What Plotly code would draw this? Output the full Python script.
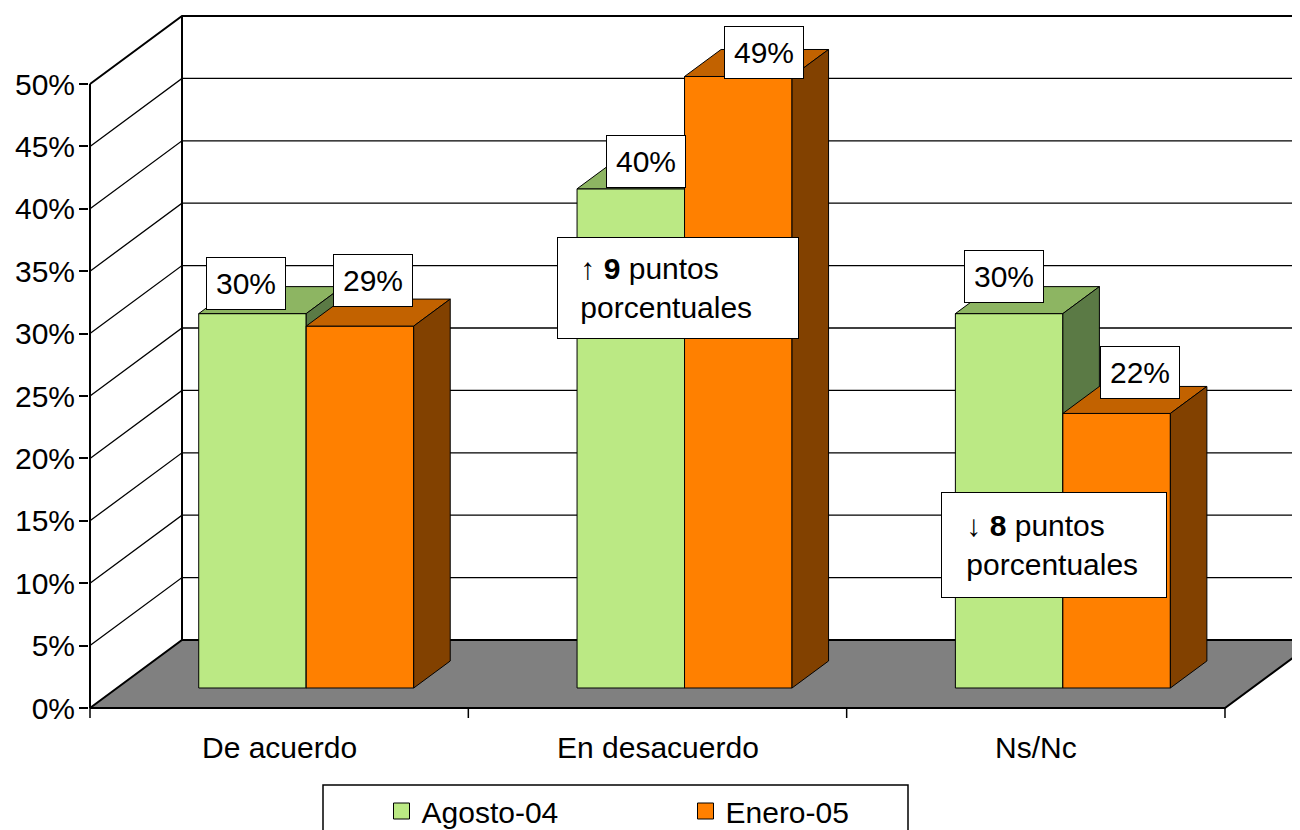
import plotly.graph_objects as go

# ---------------- data ----------------
categories = ["De acuerdo", "En desacuerdo", "Ns/Nc"]
series_names = ["Agosto-04", "Enero-05"]
agosto_04 = [30, 40, 30]
enero_05 = [29, 49, 22]
value_labels_agosto = ["30%", "40%", "30%"]
value_labels_enero = ["29%", "49%", "22%"]
y_tick_values = [0, 5, 10, 15, 20, 25, 30, 35, 40, 45, 50]
y_tick_labels = ["0%", "5%", "10%", "15%", "20%", "25%", "30%", "35%", "40%", "45%", "50%"]
change_texts = ["\u00a0\u2191 <b>9</b> puntos<br>\u00a0porcentuales",
                "\u00a0\u2193 <b>8</b> puntos<br>\u00a0porcentuales"]

# ---------------- styling / geometry ----------------
FONT = "Liberation Sans, Arial, sans-serif"
W, H = 1300, 830
OFF = 8                  # page body margin offset of the figure
PX_CAT = 378.33          # px per category on the front plane
PX_PCT = 12.48           # px per percent point
X0_PX, Y0_PX = 90 - OFF, 708 - OFF   # front-plane origin in figure px
PLOT_BOTTOM_PX = 722 - OFF
DX = 92 / PX_CAT         # full depth offset (x, category units)
DY = 68 / PX_PCT         # full depth offset (y, percent units)
D0, D1 = 0.294, 0.691    # bar depth start / end (fraction of depth)
BAR_W = 0.2841
XMAX = (W - X0_PX) / PX_CAT
YMAX = Y0_PX / PX_PCT
YMIN = -(PLOT_BOTTOM_PX - Y0_PX) / PX_PCT
TOP = max(y_tick_values)
NCAT = len(categories)
FS = 30

colors = {
    "Agosto-04": dict(front="#BBE984", top="#8DB562", side="#5B7A45"),
    "Enero-05": dict(front="#FF8000", top="#C26200", side="#824100"),
}

fig = go.Figure()

def line_trace(xs, ys, width, color="black"):
    fig.add_trace(go.Scatter(x=xs, y=ys, mode="lines", line=dict(color=color, width=width),
                             hoverinfo="skip", showlegend=False))

def poly_trace(xs, ys, fill, lw=1):
    fig.add_trace(go.Scatter(x=xs + [xs[0]], y=ys + [ys[0]], mode="lines", fill="toself",
                             fillcolor=fill, line=dict(color="black", width=lw),
                             hoverinfo="skip", showlegend=False))

# walls: gridlines on left (oblique) and back wall
gx, gy = [], []
for k in y_tick_values[1:-1]:
    gx += [0, DX, XMAX + 1, None]
    gy += [k, k + DY, k + DY, None]
line_trace(gx, gy, 1.3)
line_trace([0, DX, XMAX + 1], [TOP, TOP + DY, TOP + DY], 2)
line_trace([DX, DX], [DY, TOP + DY], 2)

# floor
poly_trace([0, NCAT, NCAT + DX, DX], [0, 0, DY, DY], "#808080", lw=2)

# front value axis line and category tick marks
line_trace([0, 0], [0, TOP], 2)
tx, ty = [], []
for i in range(NCAT + 1):
    tx += [i, i, None]
    ty += [0, -0.8, None]
line_trace(tx, ty, 1.5)

# bars
series = [("Agosto-04", agosto_04, value_labels_agosto), ("Enero-05", enero_05, value_labels_enero)]
label_shifts = [[(-25, 17), (-3, 14), (-23, 24)],
                [(-5, 32), (7, 10), (5, 27)]]
annotations = []
for g in range(NCAT):
    c = g + 0.5
    for s, (name, vals, labs) in enumerate(series):
        v = vals[g]
        xl = c - BAR_W + s * BAR_W
        xr = xl + BAR_W
        a0x, a1x = D0 * DX, D1 * DX
        a0y, a1y = D0 * DY, D1 * DY
        col = colors[name]
        poly_trace([xl + a0x, xr + a0x, xr + a0x, xl + a0x],
                   [a0y, a0y, v + a0y, v + a0y], col["front"])
        poly_trace([xl + a0x, xr + a0x, xr + a1x, xl + a1x],
                   [v + a0y, v + a0y, v + a1y, v + a1y], col["top"])
        poly_trace([xr + a0x, xr + a1x, xr + a1x, xr + a0x],
                   [a0y, a1y, v + a1y, v + a0y], col["side"])
        sx, sy = label_shifts[s][g]
        annotations.append(dict(
            x=(xl + xr) / 2 + (a0x + a1x) / 2, y=v + (a0y + a1y) / 2,
            xref="x", yref="y", text=labs[g], showarrow=False,
            xshift=sx, yshift=sy,
            font=dict(family=FONT, size=FS, color="black"),
            bgcolor="white", bordercolor="black", borderwidth=1, borderpad=9))

# change annotation boxes
annotations.append(dict(x=1.5542, y=33.69, xref="x", yref="y", text=change_texts[0],
                        showarrow=False, align="left", width=212,
                        font=dict(family=FONT, size=FS, color="black"),
                        bgcolor="white", bordercolor="black", borderwidth=1, borderpad=14))
annotations.append(dict(x=2.549, y=13.1, xref="x", yref="y", text=change_texts[1],
                        showarrow=False, align="left", width=192,
                        font=dict(family=FONT, size=FS, color="black"),
                        bgcolor="white", bordercolor="black", borderwidth=1, borderpad=16))

# category labels
for i, cat in enumerate(categories):
    annotations.append(dict(x=i + 0.5, y=1 - (747 - OFF) / H, xref="x", yref="paper",
                            text=cat, showarrow=False, yanchor="middle",
                            font=dict(family=FONT, size=FS, color="black")))

# legend entries
for name in series_names:
    fig.add_trace(go.Scatter(x=[None], y=[None], mode="markers", name=name,
                             marker=dict(symbol="square", size=18, color=colors[name]["front"],
                                         line=dict(color="black", width=1))))

fig.update_layout(
    width=W, height=H,
    margin=dict(l=0, r=0, t=0, b=0, autoexpand=False),
    paper_bgcolor="white", plot_bgcolor="white",
    font=dict(family=FONT, size=FS, color="black"),
    xaxis=dict(domain=[(X0_PX - 1) / W, 1], range=[-1 / PX_CAT, XMAX],
               showgrid=False, zeroline=False, showline=False, showticklabels=False,
               ticks="", fixedrange=True),
    yaxis=dict(domain=[1 - PLOT_BOTTOM_PX / H, 1], range=[YMIN, YMAX],
               tickvals=y_tick_values, ticktext=y_tick_labels,
               ticks="outside", ticklen=9, tickwidth=1.5, tickcolor="black",
               ticklabelstandoff=-2,
               showgrid=False, zeroline=False, showline=False, fixedrange=True,
               tickfont=dict(family=FONT, size=FS, color="black")),
    showlegend=True,
    legend=dict(orientation="h", x=(401.5 - OFF - 20) / W, xanchor="left",
                y=1 - (811 - OFF - 26) / H, yanchor="top",
                font=dict(family=FONT, size=FS, color="black"),
                bgcolor="rgba(0,0,0,0)", borderwidth=0,
                entrywidth=259, entrywidthmode="pixels", itemclick=False),
    shapes=[dict(type="rect", xref="paper", yref="paper",
                 x0=(323 - OFF) / W, x1=(908 - OFF) / W, y0=1 - (785 - OFF) / H, y1=-0.1,
                 line=dict(color="black", width=1.5), fillcolor="rgba(0,0,0,0)")],
    annotations=annotations,
)

fig.write_html("out.html")
